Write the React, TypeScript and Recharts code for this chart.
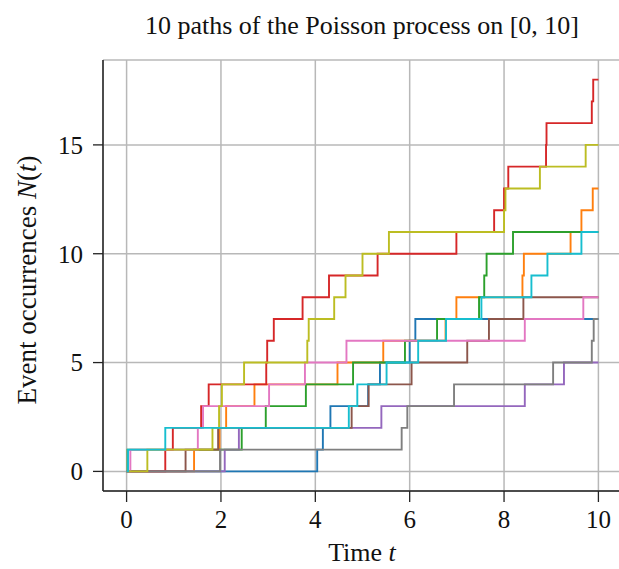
import React from "react";
import { LineChart, Line, XAxis, YAxis, CartesianGrid } from "recharts";

// Jump times (event occurrence times) of each of the 10 Poisson paths
const blueJumps = [4.04, 4.16, 4.32, 5.12, 5.37, 6.0, 6.12];
const orangeJumps = [1.43, 1.97, 2.11, 2.71, 4.47, 5.44, 6.76, 6.99, 8.39, 8.42, 9.41, 9.64, 9.88];
const greenJumps = [0.02, 2.44, 2.95, 3.8, 4.8, 5.9, 6.58, 7.47, 7.58, 7.63, 8.19];
const redJumps = [0.82, 0.98, 1.58, 1.74, 2.96, 2.98, 3.12, 3.73, 4.29, 5.32, 6.99, 7.79, 8.0, 8.09, 8.89, 8.9, 9.86, 9.89];
const purpleJumps = [2.08, 2.38, 5.4, 8.44, 9.27];
const brownJumps = [1.25, 1.94, 4.77, 5.13, 6.04, 7.22, 7.68, 8.41];
const pinkJumps = [0.08, 1.51, 1.62, 3.02, 3.78, 4.66, 8.44, 9.68];
const grayJumps = [1.98, 5.83, 5.95, 6.94, 9.04, 9.86, 9.9];
const oliveJumps = [0.44, 1.82, 1.96, 2.02, 2.49, 3.83, 3.86, 4.4, 4.64, 5.0, 5.56, 8.0, 8.03, 8.76, 9.73];
const cyanJumps = [0.03, 0.82, 4.71, 4.89, 5.51, 6.18, 6.77, 7.52, 8.58, 8.92, 9.64];

const T_END = 10;
const xTicks = [0, 2, 4, 6, 8, 10];
const yTicks = [0, 5, 10, 15];

const paths = [
  { name: "path1", color: "#1f77b4", jumps: blueJumps },
  { name: "path2", color: "#ff7f0e", jumps: orangeJumps },
  { name: "path3", color: "#2ca02c", jumps: greenJumps },
  { name: "path4", color: "#d62728", jumps: redJumps },
  { name: "path5", color: "#9467bd", jumps: purpleJumps },
  { name: "path6", color: "#8c564b", jumps: brownJumps },
  { name: "path7", color: "#e377c2", jumps: pinkJumps },
  { name: "path8", color: "#7f7f7f", jumps: grayJumps },
  { name: "path9", color: "#bcbd22", jumps: oliveJumps },
  { name: "path10", color: "#17becf", jumps: cyanJumps },
];

const toSteps = (jumps: number[]) => [
  { t: 0, n: 0 },
  ...jumps.map((t, i) => ({ t, n: i + 1 })),
  { t: T_END, n: jumps.length },
];

const FONT = "'Liberation Serif', 'DejaVu Serif', serif";
const tickStyle = { fontSize: 25, fill: "#111", fontFamily: FONT };

export default function App() {
  return (
    <div
      style={{
        position: "absolute",
        left: 0,
        top: 0,
        width: 619,
        height: 569,
        overflow: "hidden",
        background: "#fff",
      }}
    >
      <LineChart width={640} height={569} margin={{ top: 60, right: 18, left: 0, bottom: 0 }}>
        <CartesianGrid stroke="#b8b8b8" strokeWidth={1.5} />
        <XAxis
          dataKey="t"
          type="number"
          domain={[-0.5, 10.5]}
          ticks={xTicks}
          allowDataOverflow
          height={78}
          tickSize={11}
          tickMargin={8}
          tick={tickStyle}
          axisLine={{ stroke: "#222", strokeWidth: 1.5 }}
          tickLine={{ stroke: "#222", strokeWidth: 1.3 }}
        />
        <XAxis
          xAxisId="top"
          orientation="top"
          type="number"
          domain={[-0.5, 10.5]}
          height={0}
          tick={false}
          tickLine={false}
          axisLine={{ stroke: "#222", strokeWidth: 1.5 }}
        />
        <YAxis
          type="number"
          domain={[-0.9, 18.9]}
          ticks={yTicks}
          allowDataOverflow
          width={103}
          tickSize={10}
          tickMargin={10}
          tick={tickStyle}
          axisLine={{ stroke: "#222", strokeWidth: 1.5 }}
          tickLine={{ stroke: "#222", strokeWidth: 1.3 }}
        />
        {paths.map((p) => (
          <Line
            key={p.name}
            name={p.name}
            data={toSteps(p.jumps)}
            dataKey="n"
            type="stepAfter"
            stroke={p.color}
            strokeWidth={1.9}
            dot={false}
            activeDot={false}
            isAnimationActive={false}
          />
        ))}
      </LineChart>
      <svg
        width={619}
        height={569}
        style={{ position: "absolute", left: 0, top: 0, pointerEvents: "none" }}
      >
        <text x={362} y={34} textAnchor="middle" fontSize={26} fontFamily={FONT} fill="#111">
          10 paths of the Poisson process on [0, 10]
        </text>
        <text x={362} y={561} textAnchor="middle" fontSize={26} fontFamily={FONT} fill="#111">
          Time <tspan fontStyle="italic">t</tspan>
        </text>
        <text
          x={0}
          y={0}
          transform="translate(36, 280) rotate(-90)"
          textAnchor="middle"
          fontSize={27}
          fontFamily={FONT}
          fill="#111"
        >
          Event occurrences <tspan fontStyle="italic">N</tspan>(<tspan fontStyle="italic">t</tspan>)
        </text>
      </svg>
    </div>
  );
}
